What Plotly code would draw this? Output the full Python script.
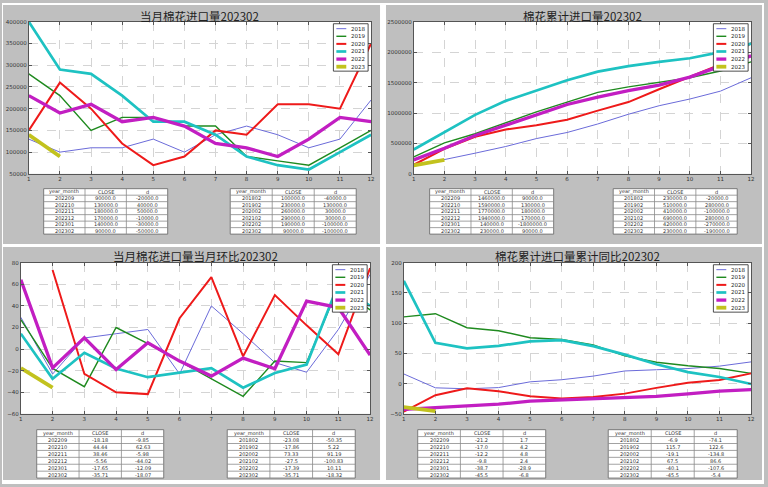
import plotly.graph_objects as go

W, H = 768, 487
months = list(range(1, 13))
years = ['2018', '2019', '2020', '2021', '2022', '2023']

# ---- panel 1: monthly import volume ----
imp_2018 = [130000, 100000, 110000, 110000, 130000, 100000, 140000, 160000, 140000, 110000, 130000, 220000]
imp_2019 = [280000, 230000, 150000, 180000, 180000, 160000, 160000, 90000, 80000, 70000, 110000, 150000]
imp_2020 = [150000, 260000, 200000, 120000, 70000, 90000, 150000, 140000, 210000, 210000, 200000, 350000]
imp_2021 = [400000, 290000, 280000, 230000, 170000, 170000, 140000, 90000, 70000, 60000, 100000, 140000]
imp_2022 = [230000, 190000, 210000, 170000, 180000, 160000, 120000, 110000, 90000, 130000, 180000, 170000]
imp_2023 = [140000, 90000]

# ---- panel 2: cumulative import volume ----
cum_2018 = [130000, 230000, 340000, 450000, 580000, 680000, 820000, 980000, 1120000, 1230000, 1360000, 1580000]
cum_2019 = [280000, 510000, 660000, 840000, 1020000, 1180000, 1340000, 1430000, 1510000, 1580000, 1690000, 1840000]
cum_2020 = [150000, 410000, 610000, 730000, 800000, 890000, 1040000, 1180000, 1390000, 1600000, 1800000, 2150000]
cum_2021 = [400000, 690000, 970000, 1200000, 1370000, 1540000, 1680000, 1770000, 1840000, 1900000, 2000000, 2140000]
cum_2022 = [230000, 420000, 630000, 800000, 980000, 1140000, 1260000, 1370000, 1460000, 1590000, 1770000, 1940000]
cum_2023 = [140000, 230000]

# ---- panel 3: month-on-month change (%) ----
mom_2018 = [29.5, -23.08, 10.3, 14.5, 18.2, -23.0, 40.0, 14.3, -12.5, -21.4, 18.2, 69.2]
mom_2019 = [27.3, -17.86, -34.8, 20.0, 5.0, -11.1, -27.0, -43.75, -11.1, -12.5, 57.1, 36.4]
mom_2020 = [None, 73.33, -23.0, -40.0, -41.7, 28.6, 66.7, -6.7, 50.0, 22.0, -4.76, 75.0]
mom_2021 = [14.3, -27.5, -3.4, -17.9, -26.0, -21.6, -17.6, -35.7, -22.2, -14.3, 60.0, 40.0]
mom_2022 = [64.3, -17.39, 10.5, -19.0, 5.9, -11.1, -25.0, -8.3, -18.2, 44.44, 38.46, -5.56]
mom_2023 = [-17.65, -35.71]

# ---- panel 4: cumulative year-on-year change (%) ----
yoy_2018 = [16.0, -6.9, -8.5, -6.5, 3.0, 6.5, 12.5, 21.0, 23.0, 25.0, 29.0, 36.0]
yoy_2019 = [110.5, 115.7, 92.5, 87.5, 76.0, 73.0, 64.0, 46.0, 35.5, 29.5, 25.0, 17.0]
yoy_2020 = [-46.4, -19.1, -7.6, -12.5, -21.0, -24.5, -22.0, -16.5, -7.0, 1.5, 6.0, 17.0]
yoy_2021 = [170.0, 67.5, 58.5, 62.5, 70.0, 72.0, 62.0, 48.0, 32.0, 19.0, 11.0, -0.5]
yoy_2022 = [-42.5, -40.1, -36.5, -34.0, -29.0, -27.0, -25.5, -22.9, -21.2, -17.0, -12.2, -9.8]
yoy_2023 = [-38.7, -45.5]

# ---- tables ----
tbl_head = ['year_month', 'CLOSE', 'd']
ym_recent = ['202209', '202210', '202211', '202212', '202301', '202302']
ym_feb = ['201802', '201902', '202002', '202102', '202202', '202302']

t1a_close = ['90000.0', '130000.0', '180000.0', '170000.0', '140000.0', '90000.0']
t1a_d = ['-20000.0', '40000.0', '50000.0', '-10000.0', '-30000.0', '-50000.0']
t1b_close = ['100000.0', '230000.0', '260000.0', '290000.0', '190000.0', '90000.0']
t1b_d = ['-40000.0', '130000.0', '30000.0', '30000.0', '-100000.0', '-100000.0']

t2a_close = ['1460000.0', '1590000.0', '1770000.0', '1940000.0', '140000.0', '230000.0']
t2a_d = ['90000.0', '130000.0', '180000.0', '170000.0', '-1800000.0', '90000.0']
t2b_close = ['230000.0', '510000.0', '410000.0', '690000.0', '420000.0', '230000.0']
t2b_d = ['-20000.0', '280000.0', '-100000.0', '280000.0', '-270000.0', '-190000.0']

t3a_close = ['-18.18', '44.44', '38.46', '-5.56', '-17.65', '-35.71']
t3a_d = ['-9.85', '62.63', '-5.98', '-44.02', '-12.09', '-18.07']
t3b_close = ['-23.08', '-17.86', '73.33', '-27.5', '-17.39', '-35.71']
t3b_d = ['-50.35', '5.22', '91.19', '-100.83', '10.11', '-18.32']

t4a_close = ['-21.2', '-17.0', '-12.2', '-9.8', '-38.7', '-45.5']
t4a_d = ['1.7', '4.2', '4.8', '2.4', '-28.9', '-6.8']
t4b_close = ['-6.9', '115.7', '-19.1', '67.5', '-40.1', '-45.5']
t4b_d = ['-74.1', '122.6', '-134.8', '86.6', '-107.6', '-5.4']

styles = {
    '2018': ('#6b6bd9', 1.0),
    '2019': ('#1f8a1f', 1.4),
    '2020': ('#ee1a1a', 2.0),
    '2021': ('#1ec2c2', 2.7),
    '2022': ('#c21ec2', 3.3),
    '2023': ('#c2c21e', 3.8),
}


def fx(px):
    return px / W


def fy(py):
    return 1 - py / H


panels = [
    dict(title='当月棉花进口量202302', series=[imp_2018, imp_2019, imp_2020, imp_2021, imp_2022, imp_2023],
         yr=[50000, 400000], dt=50000, xpx=(27, 372), ypx=(19, 173), title_y=13.5,
         tables=[(ym_recent, t1a_close, t1a_d, (42, 167)), (ym_feb, t1b_close, t1b_d, (230, 357))],
         tpy=(188, 234)),
    dict(title='棉花累计进口量202302', series=[cum_2018, cum_2019, cum_2020, cum_2021, cum_2022, cum_2023],
         yr=[0, 2500000], dt=500000, xpx=(415, 755), ypx=(19, 173), title_y=13.5,
         tables=[(ym_recent, t2a_close, t2a_d, (431, 556)), (ym_feb, t2b_close, t2b_d, (616, 741))],
         tpy=(188, 234)),
    dict(title='当月棉花进口量当月环比202302', series=[mom_2018, mom_2019, mom_2020, mom_2021, mom_2022, mom_2023],
         yr=[-60, 80], dt=20, xpx=(19, 371), ypx=(263, 416), title_y=256.5,
         tables=[(ym_recent, t3a_close, t3a_d, (35, 163)), (ym_feb, t3b_close, t3b_d, (227, 356))],
         tpy=(432, 481)),
    dict(title='棉花累计进口量累计同比202302', series=[yoy_2018, yoy_2019, yoy_2020, yoy_2021, yoy_2022, yoy_2023],
         yr=[-50, 200], dt=50, xpx=(405, 755), ypx=(263, 416), title_y=256.5,
         tables=[(ym_recent, t4a_close, t4a_d, (419, 548)), (ym_feb, t4b_close, t4b_d, (611, 741))],
         tpy=(432, 481)),
]

fig = go.Figure()
shapes = []
annotations = []
layout_axes = {}

# white gaps between the gray panels
for (x0, y0, x1, y1) in [(381, 0, 387, H), (0, 244, W, 247), (0, 483, W, H), (0, 0, W, 2), (766, 0, W, H), (0, 0, 1, H)]:
    shapes.append(dict(type='rect', xref='paper', yref='paper', x0=fx(x0), x1=fx(x1), y0=fy(y1), y1=fy(y0),
                       fillcolor='white', line=dict(width=0), layer='below'))

tfont = dict(size=5.0, color='#333', family='DejaVu Sans')

for i, p in enumerate(panels):
    n = '' if i == 0 else str(i + 1)
    xa, ya = 'x' + n, 'y' + n
    for yr, vals in zip(years, p['series']):
        col, lw = styles[yr]
        fig.add_trace(go.Scatter(x=months[:len(vals)], y=vals, mode='lines', name=yr, showlegend=False,
                                 line=dict(color=col, width=lw), xaxis=xa, yaxis=ya, connectgaps=False,
                                 hoverinfo='skip'))
    axcommon = dict(showline=True, mirror='ticks', linecolor='#555', linewidth=1, ticks='inside', ticklen=3,
                    tickcolor='#555', showgrid=True, gridcolor='#d4d4d4', griddash='dash', gridwidth=0.7,
                    zeroline=False, tickfont=dict(size=5.5, color='#333', family='DejaVu Sans'))
    layout_axes['xaxis' + n] = dict(axcommon, domain=[fx(p['xpx'][0]), fx(p['xpx'][1])], range=[1, 12], dtick=1,
                                    tick0=1, anchor=ya)
    layout_axes['yaxis' + n] = dict(axcommon, domain=[fy(p['ypx'][1]), fy(p['ypx'][0])], range=p['yr'],
                                    dtick=p['dt'], tickformat='d', anchor=xa)
    # title
    annotations.append(dict(text=p['title'], xref='paper', yref='paper', x=fx((p['xpx'][0] + p['xpx'][1]) / 2),
                            y=fy(p['title_y']), xanchor='center', yanchor='middle', showarrow=False,
                            font=dict(size=11.5, color='#222', family='Noto Sans CJK SC')))
    # legend (matplotlib-style compact box)
    lx1 = p['xpx'][1] - 3
    lx0 = lx1 - 35
    ly0 = p['ypx'][0] + 2
    ly1 = ly0 + 48
    shapes.append(dict(type='rect', xref='paper', yref='paper', x0=fx(lx0), x1=fx(lx1), y0=fy(ly1), y1=fy(ly0),
                       fillcolor='white', line=dict(color='#222', width=0.8), layer='above'))
    for k, yr in enumerate(years):
        col, lw = styles[yr]
        cy = ly0 + 5 + k * 7.7
        shapes.append(dict(type='line', xref='paper', yref='paper', x0=fx(lx0 + 3), x1=fx(lx0 + 13), y0=fy(cy),
                           y1=fy(cy), line=dict(color=col, width=lw), layer='above'))
        annotations.append(dict(text=yr, xref='paper', yref='paper', x=fx(lx0 + 16), y=fy(cy), xanchor='left',
                                yanchor='middle', showarrow=False,
                                font=dict(size=5.5, color='#222', family='DejaVu Sans')))
    # tables (drawn as cells)
    ty0, ty1 = p['tpy']
    rh = (ty1 - ty0) / 7.0
    for (ym, cl, dd, (tx0, tx1)) in p['tables']:
        cw = (tx1 - tx0) / 3.0
        shapes.append(dict(type='rect', xref='paper', yref='paper', x0=fx(tx0), x1=fx(tx1), y0=fy(ty1), y1=fy(ty0),
                           fillcolor='white', line=dict(color='#6f6f6f', width=0.9), layer='below'))
        for r in range(1, 7):
            yy = ty0 + r * rh
            shapes.append(dict(type='line', xref='paper', yref='paper', x0=fx(tx0), x1=fx(tx1), y0=fy(yy),
                               y1=fy(yy), line=dict(color='#8a8a8a', width=0.8), layer='below'))
        for c in range(1, 3):
            xx = tx0 + c * cw
            shapes.append(dict(type='line', xref='paper', yref='paper', x0=fx(xx), x1=fx(xx), y0=fy(ty1),
                               y1=fy(ty0), line=dict(color='#8a8a8a', width=0.8), layer='below'))
        columns = [[tbl_head[0]] + ym, [tbl_head[1]] + cl, [tbl_head[2]] + dd]
        for c, colvals in enumerate(columns):
            for r, txt in enumerate(colvals):
                annotations.append(dict(text=txt, xref='paper', yref='paper', x=fx(tx0 + (c + 0.5) * cw),
                                        y=fy(ty0 + (r + 0.5) * rh), xanchor='center', yanchor='middle',
                                        showarrow=False, font=tfont, borderpad=0))

fig.update_layout(
    width=W, height=H, margin=dict(l=0, r=0, t=0, b=0, pad=0),
    paper_bgcolor='#bfbfbf', plot_bgcolor='white', showlegend=False,
    shapes=shapes, annotations=annotations, **layout_axes,
)

fig.write_html('out.html', config={'displayModeBar': False},
               post_script="document.body.style.margin='0px';document.body.style.overflow='hidden';")
